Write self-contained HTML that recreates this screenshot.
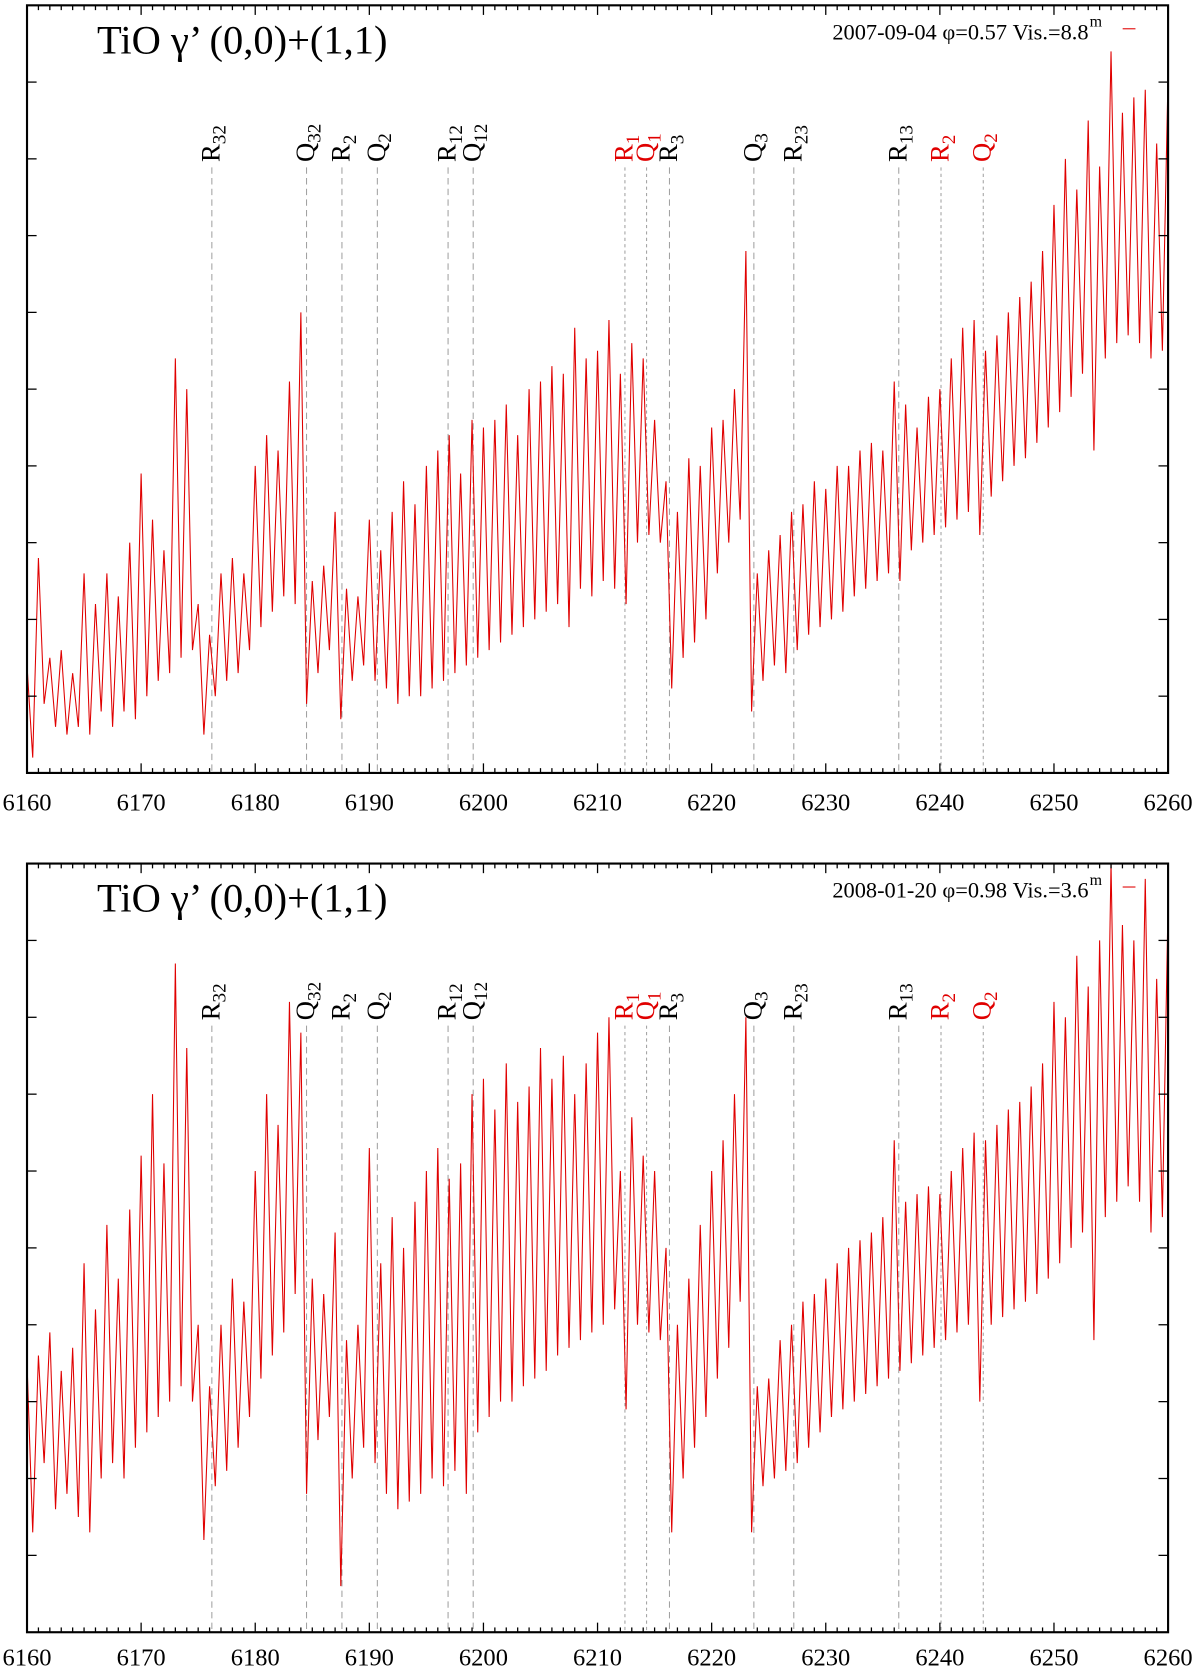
<!DOCTYPE html>
<html><head><meta charset="utf-8"><title>TiO spectra</title>
<style>
html,body{margin:0;padding:0;background:#fff;}
svg{display:block;}
text{font-family:"Liberation Serif",serif;}
</style></head>
<body>
<svg id="chart" width="1200" height="1672" viewBox="0 0 1125.5 1568.3" xmlns="http://www.w3.org/2000/svg"></svg>
<script>
// ---- data ----
const xTicks = [6160,6170,6180,6190,6200,6210,6220,6230,6240,6250,6260];
const yTicks = [1,2,3,4,5,6,7,8,9];
const lineLabels = ["R","Q","R","Q","R","Q","R","Q","R","Q","R","R","R","Q"];
const lineSubs   = ["32","32","2","2","12","12","1","1","3","3","23","13","2","2"];
const lineWaves  = [6176.2,6184.5,6187.6,6190.7,6196.9,6199.1,6212.4,6214.3,6216.3,6223.7,6227.2,6236.4,6240.1,6243.8];
const lineRed    = [0,0,0,0,0,0,1,1,0,0,0,0,1,1];
// pairs per Angstrom: value at x.0, value at x.5 (6160 .. 6259), then 6260
const spec1 = [1.4,0.2, 2.8,0.9, 1.5,0.6, 1.6,0.5, 1.3,0.6, 2.6,0.5, 2.2,0.8, 2.6,0.6, 2.3,0.8, 3.0,0.7,
 3.9,1.0, 3.3,1.2, 2.9,1.3, 5.4,1.5, 5.0,1.6, 2.2,0.5, 1.8,1.0, 2.6,1.2, 2.8,1.3, 2.6,1.6,
 4.0,1.9, 4.4,2.1, 4.2,2.3, 5.1,2.2, 6.0,0.9, 2.5,1.3, 2.7,1.6, 3.4,0.7, 2.4,1.2, 2.3,1.4,
 3.3,1.2, 2.9,1.1, 3.4,0.9, 3.8,1.0, 3.5,1.0, 4.0,1.1, 4.2,1.2, 4.4,1.3, 3.9,1.4, 4.6,1.5,
 4.5,1.6, 4.6,1.7, 4.8,1.8, 4.4,1.9, 5.0,2.0, 5.1,2.1, 5.3,2.2, 5.2,1.9, 5.8,2.4, 5.4,2.3,
 5.5,2.5, 5.9,2.4, 5.2,2.2, 5.6,3.0, 5.4,3.1, 4.6,3.0, 3.8,1.1, 3.4,1.5, 4.1,1.7, 4.0,2.0,
 4.5,2.6, 4.6,3.0, 5.0,3.3, 6.8,0.8, 2.6,1.2, 2.9,1.4, 3.1,1.3, 3.4,1.6, 3.5,1.8, 3.8,1.9,
 3.7,2.0, 4.0,2.1, 4.0,2.3, 4.2,2.4, 4.3,2.5, 4.2,2.6, 5.1,2.5, 4.8,2.9, 4.5,3.0, 4.9,3.1,
 5.0,3.2, 5.4,3.3, 5.8,3.4, 5.9,3.1, 5.5,3.6, 5.7,3.8, 6.0,4.0, 6.2,4.1, 6.4,4.3, 6.8,4.5,
 7.4,4.7, 8.0,4.9, 7.6,5.2, 8.5,4.2, 7.9,5.4, 9.4,5.6, 8.6,5.7, 8.8,5.6, 8.9,5.4, 8.2,5.5, 9.1];
const spec2 = [3.5,1.3, 3.6,2.2, 3.9,1.6, 3.4,1.8, 3.7,1.5, 4.8,1.3, 4.2,2.0, 5.3,2.2, 4.6,2.0, 5.5,2.4,
 6.2,2.6, 7.0,2.8, 6.1,3.0, 8.7,3.2, 7.6,3.0, 4.0,1.2, 3.2,1.9, 4.0,2.1, 4.6,2.4, 4.3,2.8,
 6.0,3.3, 7.0,3.6, 6.6,3.9, 8.2,4.4, 7.8,1.8, 4.6,2.5, 4.4,2.8, 5.2,0.6, 3.8,2.0, 4.0,2.4,
 6.3,2.2, 4.8,1.8, 5.4,1.6, 5.0,1.7, 5.6,1.8, 6.0,2.0, 6.3,1.9, 5.9,2.1, 6.1,1.8, 7.0,2.6,
 7.2,2.8, 6.8,3.0, 7.4,3.0, 6.9,3.2, 7.1,3.3, 7.6,3.4, 7.2,3.6, 7.5,3.7, 7.0,3.8, 7.4,3.9,
 7.8,4.0, 8.0,4.2, 6.0,2.9, 6.7,4.0, 6.2,3.9, 6.0,3.8, 5.0,1.3, 4.0,2.0, 4.6,2.4, 5.3,2.8,
 6.0,3.3, 6.4,3.7, 7.0,4.3, 8.0,1.3, 3.2,1.9, 3.3,2.0, 3.8,2.1, 4.0,2.2, 4.3,2.4, 4.4,2.6,
 4.6,2.8, 4.8,2.9, 5.0,3.0, 5.1,3.1, 5.2,3.2, 5.4,3.3, 6.4,3.4, 5.6,3.5, 5.7,3.6, 5.8,3.7,
 5.7,3.8, 6.0,3.9, 6.3,4.0, 6.5,3.0, 6.4,4.0, 6.6,4.1, 6.8,4.2, 6.9,4.3, 7.1,4.4, 7.4,4.6,
 8.2,4.8, 8.0,5.0, 8.8,5.2, 8.4,3.8, 9.0,5.4, 10.0,5.6, 9.2,5.8, 9.0,5.6, 9.8,5.2, 8.5,5.4, 9.5];
const specStart = 6160, specStep = 0.5;

// ---- drawing ----
const NS = "http://www.w3.org/2000/svg";
const svg = document.getElementById('chart');
const X0 = 25.3, X1 = 1095.6, W0 = 6160, W1 = 6260;
function xs(w){ return X0 + (w - W0) / (W1 - W0) * (X1 - X0); }
function mk(tag, attrs, parent){
  const e = document.createElementNS(NS, tag);
  for (const k in attrs) e.setAttribute(k, attrs[k]);
  (parent || svg).appendChild(e);
  return e;
}
const panels = [
  {top:5, bottom:725, spec:spec1, date:"2007-09-04 φ=0.57 Vis.=8.8", labelBase:152, tickLabelY:760},
  {top:810, bottom:1531, spec:spec2, date:"2008-01-20 φ=0.98 Vis.=3.6", labelBase:957, tickLabelY:1562}
];
panels.forEach((p, pi) => {
  const g = mk('g', {});
  
  
  function ys(v){ return p.bottom - v / 10 * (p.bottom - p.top); }
  const cp = mk('clipPath', {id: 'clip' + pi}, g);
  mk('rect', {x: X0, y: p.top, width: X1 - X0, height: p.bottom - p.top}, cp);
  lineWaves.forEach((w, i) => {
    const x = xs(w);
    const col = lineRed[i] ? '#e00000' : '#000';
    const ln = mk('line', {x1: x, x2: x, y1: p.labelBase + 5, y2: p.bottom, stroke: '#999', 'stroke-width': 0.9, 'stroke-dasharray': lineRed[i] ? '3,3' : '6,4'}, g);
    
    
    const t = mk('text', {x: 0, y: 0, transform: 'translate(' + (x + 7) + ',' + p.labelBase + ') rotate(-90)', 'font-size': 25, fill: col}, g);
    
    
    t.appendChild(document.createTextNode(lineLabels[i]));
    const s = mk('tspan', {dy: 6, 'font-size': 18}, t);
    s.textContent = lineSubs[i];
  });
  let d = '';
  p.spec.forEach((v, i) => {
    d += (i ? 'L' : 'M') + xs(specStart + i * specStep).toFixed(2) + ',' + ys(v).toFixed(2);
  });
  const path = mk('path', {d: d, fill: 'none', stroke: '#e00000', 'stroke-width': 1, 'clip-path': 'url(#clip' + pi + ')'}, g);
  
  
  const fr = mk('rect', {x: X0, y: p.top, width: X1 - X0, height: p.bottom - p.top, fill: 'none', stroke: '#000', 'stroke-width': 2}, g);
  
  
  for (let w = W0; w <= W1; w++) {
    const maj = (w % 10 === 0);
    const L = maj ? 9 : 4.5;
    const x = xs(w);
    mk('line', {x1: x, x2: x, y1: p.bottom, y2: p.bottom - L, stroke: '#000', 'stroke-width': 1.2}, g);
    mk('line', {x1: x, x2: x, y1: p.top, y2: p.top + L, stroke: '#000', 'stroke-width': 1.2}, g);
  }
  xTicks.forEach(w => {
    const t = mk('text', {x: xs(w), y: p.tickLabelY, 'font-size': 23, 'text-anchor': 'middle', fill: '#000'}, g);
    
    
    t.textContent = w;
  });
  yTicks.forEach(v => {
    const y = ys(v);
    mk('line', {x1: X0, x2: X0 + 9, y1: y, y2: y, stroke: '#000', 'stroke-width': 1.2}, g);
    mk('line', {x1: X1, x2: X1 - 9, y1: y, y2: y, stroke: '#000', 'stroke-width': 1.2}, g);
  });
  const ti = mk('text', {x: 91, y: p.top + 45, 'font-size': 38, fill: '#000'}, g);
  
  
  ti.textContent = 'TiO γ’ (0,0)+(1,1)';
  const lt = mk('text', {x: 1021, y: p.top + 32, 'font-size': 21, 'text-anchor': 'end', fill: '#000'}, g);
  
  
  lt.textContent = p.date;
  const sup = mk('text', {x: 1022, y: p.top + 20, 'font-size': 15, fill: '#000'}, g);
  sup.textContent = 'm';
  const ll = mk('line', {x1: 1053, x2: 1065, y1: p.top + 22, y2: p.top + 22, stroke: '#e00000', 'stroke-width': 1}, g);
  
  
});
</script>
</body></html>
